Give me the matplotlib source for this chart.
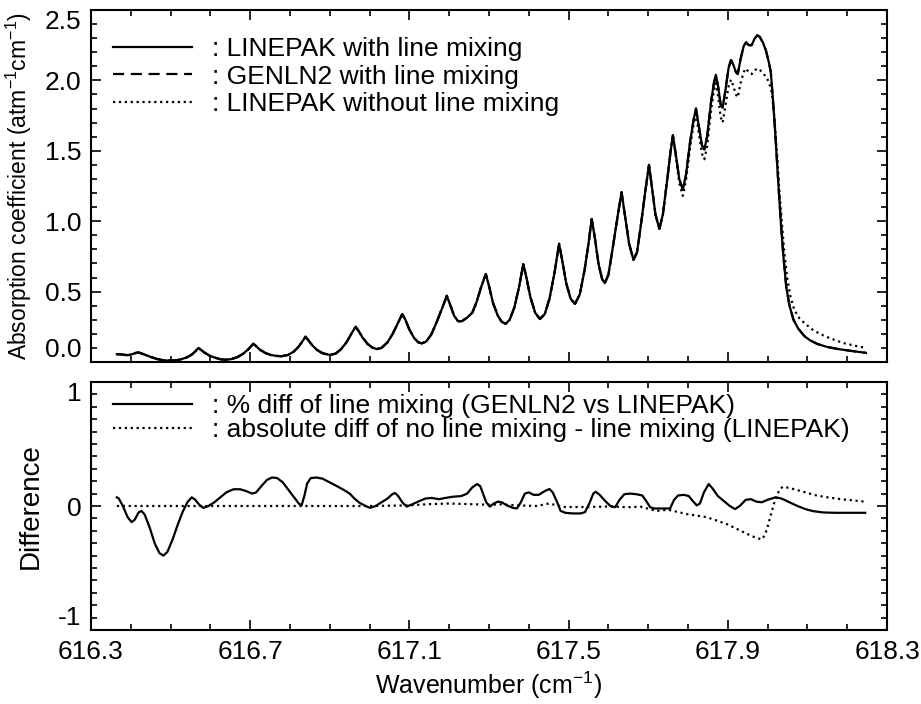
import matplotlib
matplotlib.use("Agg")
import matplotlib.pyplot as plt
from matplotlib.ticker import MultipleLocator

plt.rcParams['font.family'] = ['Liberation Sans', 'DejaVu Sans']
plt.rcParams['mathtext.fontset'] = 'custom'
plt.rcParams['mathtext.rm'] = 'Liberation Sans'
plt.rcParams['mathtext.it'] = 'Liberation Sans:italic'

# top panel: absorption coefficient, LINEPAK with line mixing
wn_top = [616.365, 616.375, 616.385, 616.394, 616.403, 616.412, 616.419, 616.426,
          616.437, 616.450, 616.465, 616.480, 616.494, 616.510, 616.525, 616.540,
          616.552, 616.562, 616.570, 616.577, 616.586, 616.598, 616.612, 616.625,
          616.637, 616.652, 616.668, 616.682, 616.695, 616.703, 616.708, 616.714,
          616.724, 616.738, 616.752, 616.766, 616.779, 616.795, 616.810, 616.822,
          616.832, 616.839, 616.846, 616.856, 616.868, 616.882, 616.900, 616.915,
          616.928, 616.942, 616.955, 616.965, 616.972, 616.982, 616.995, 617.007,
          617.018, 617.030, 617.045, 617.058, 617.070, 617.082, 617.090, 617.100,
          617.112, 617.122, 617.131, 617.142, 617.155, 617.168, 617.182, 617.194,
          617.202, 617.212, 617.222, 617.232, 617.245, 617.258, 617.268, 617.280,
          617.292, 617.300, 617.310, 617.322, 617.332, 617.342, 617.352, 617.364,
          617.376, 617.386, 617.394, 617.404, 617.416, 617.428, 617.440, 617.452,
          617.465, 617.476, 617.484, 617.494, 617.505, 617.516, 617.528, 617.540,
          617.550, 617.558, 617.566, 617.575, 617.584, 617.591, 617.600, 617.612,
          617.624, 617.633, 617.641, 617.652, 617.663, 617.672, 617.682, 617.693,
          617.702, 617.709, 617.718, 617.728, 617.737, 617.748, 617.756, 617.762,
          617.769, 617.778, 617.787, 617.795, 617.805, 617.814, 617.820, 617.827,
          617.835, 617.841, 617.848, 617.858, 617.865, 617.870, 617.876, 617.882,
          617.887, 617.894, 617.902, 617.908, 617.914, 617.920, 617.925, 617.932,
          617.940, 617.946, 617.953, 617.960, 617.967, 617.974, 617.980, 617.988,
          617.996, 618.003, 618.008, 618.013, 618.018, 618.023, 618.028, 618.034,
          618.040, 618.047, 618.055, 618.065, 618.077, 618.092, 618.106, 618.125,
          618.148, 618.175, 618.207, 618.247]
k_linepak = [0.056, 0.054, 0.050, 0.049, 0.055, 0.064, 0.068, 0.062,
             0.050, 0.036, 0.022, 0.013, 0.010, 0.011, 0.018, 0.032,
             0.050, 0.075, 0.100, 0.085, 0.065, 0.045, 0.030, 0.020,
             0.016, 0.020, 0.035, 0.058, 0.090, 0.115, 0.130, 0.115,
             0.088, 0.064, 0.050, 0.043, 0.041, 0.050, 0.075, 0.110,
             0.150, 0.180, 0.155, 0.118, 0.085, 0.062, 0.050, 0.060,
             0.090, 0.140, 0.205, 0.250, 0.222, 0.175, 0.128, 0.102,
             0.092, 0.100, 0.140, 0.200, 0.270, 0.340, 0.300, 0.230,
             0.170, 0.140, 0.132, 0.145, 0.195, 0.280, 0.380, 0.470,
             0.410, 0.330, 0.290, 0.290, 0.315, 0.350, 0.420, 0.530,
             0.625, 0.540, 0.420, 0.330, 0.285, 0.272, 0.300, 0.390,
             0.540, 0.695, 0.600, 0.460, 0.350, 0.305, 0.340, 0.450,
             0.640, 0.840, 0.720, 0.560, 0.450, 0.412, 0.480, 0.650,
             0.840, 1.016, 0.880, 0.700, 0.590, 0.560, 0.620, 0.830,
             1.050, 1.206, 1.050, 0.840, 0.725, 0.780, 0.980, 1.220,
             1.400, 1.250, 1.050, 0.945, 1.050, 1.300, 1.490, 1.610,
             1.480, 1.300, 1.225, 1.330, 1.560, 1.720, 1.800, 1.680,
             1.540, 1.510, 1.600, 1.850, 1.980, 2.040, 1.950, 1.830,
             1.805, 1.930, 2.090, 2.145, 2.110, 2.060, 2.045, 2.150,
             2.245, 2.270, 2.250, 2.250, 2.295, 2.320, 2.310, 2.270,
             2.210, 2.130, 2.060, 1.880, 1.680, 1.450, 1.220, 0.960,
             0.740, 0.530, 0.400, 0.300, 0.237, 0.185, 0.155, 0.128,
             0.108, 0.093, 0.080, 0.065]
# GENLN2 with line mixing lies right on the LINEPAK curve
k_genln2 = list(k_linepak)

# LINEPAK without line mixing: same curve up to 617.762, then it departs
n_shared = wn_top.index(617.762) + 1
wn_nolm_tail = [617.769, 617.778, 617.787, 617.795, 617.805, 617.814, 617.820, 617.827,
                617.835, 617.841, 617.848, 617.858, 617.865, 617.870, 617.876, 617.882,
                617.887, 617.894, 617.902, 617.908, 617.914, 617.920, 617.925, 617.932,
                617.940, 617.946, 617.953, 617.960, 617.967, 617.974, 617.982, 617.990,
                617.998, 618.005, 618.010, 618.015, 618.020, 618.025, 618.030, 618.036,
                618.042, 618.049, 618.057, 618.067, 618.080, 618.095, 618.115, 618.135,
                618.160, 618.190, 618.220, 618.247]
k_nolm_tail = [1.47, 1.27, 1.18, 1.29, 1.52, 1.69, 1.76, 1.63,
               1.48, 1.44, 1.53, 1.79, 1.93, 1.98, 1.88, 1.74,
               1.70, 1.82, 1.96, 2.005, 1.96, 1.90, 1.88, 1.98,
               2.06, 2.085, 2.055, 2.045, 2.07, 2.085, 2.07, 2.045,
               2.02, 1.97, 1.92, 1.80, 1.62, 1.42, 1.20, 0.98,
               0.78, 0.60, 0.47, 0.37, 0.31, 0.27, 0.225, 0.195,
               0.165, 0.135, 0.115, 0.10]
wn_nolm = wn_top[:n_shared] + wn_nolm_tail
k_nolm = k_linepak[:n_shared] + k_nolm_tail

# bottom panel: % diff of line mixing, GENLN2 vs LINEPAK
wn_pct = [616.365, 616.370, 616.380, 616.392, 616.402, 616.410, 616.420, 616.427,
          616.435, 616.447, 616.460, 616.472, 616.482, 616.492, 616.505, 616.518,
          616.530, 616.542, 616.553, 616.562, 616.572, 616.582, 616.595, 616.610,
          616.625, 616.640, 616.658, 616.675, 616.690, 616.705, 616.715, 616.728,
          616.742, 616.755, 616.768, 616.782, 616.796, 616.810, 616.822, 616.829,
          616.836, 616.843, 616.852, 616.866, 616.882, 616.900, 616.918, 616.935,
          616.950, 616.962, 616.975, 616.990, 617.001, 617.015, 617.030, 617.045,
          617.057, 617.064, 617.072, 617.082, 617.093, 617.108, 617.125, 617.140,
          617.155, 617.175, 617.190, 617.210, 617.230, 617.245, 617.258, 617.270,
          617.278, 617.285, 617.293, 617.302, 617.312, 617.322, 617.332, 617.345,
          617.360, 617.370, 617.380, 617.390, 617.400, 617.412, 617.425, 617.440,
          617.452, 617.460, 617.470, 617.480, 617.492, 617.510, 617.530, 617.541,
          617.552, 617.562, 617.568, 617.578, 617.592, 617.605, 617.617, 617.628,
          617.640, 617.655, 617.670, 617.685, 617.695, 617.705, 617.715, 617.740,
          617.755, 617.765, 617.775, 617.790, 617.802, 617.812, 617.822, 617.830,
          617.840, 617.852, 617.862, 617.875, 617.890, 617.905, 617.918, 617.930,
          617.945, 617.958, 617.972, 617.985, 618.000, 618.020, 618.035, 618.055,
          618.075, 618.095, 618.115, 618.140, 618.170, 618.245]
pct_diff = [0.07, 0.06, 0.00, -0.09, -0.13, -0.11, -0.05, -0.04,
            -0.07, -0.17, -0.30, -0.38, -0.40, -0.37, -0.27, -0.15,
            -0.05, 0.03, 0.07, 0.05, 0.01, -0.015, 0.00, 0.03,
            0.07, 0.11, 0.135, 0.135, 0.12, 0.10, 0.11, 0.16,
            0.21, 0.23, 0.225, 0.19, 0.13, 0.07, 0.02, 0.005,
            0.08, 0.18, 0.225, 0.23, 0.22, 0.19, 0.16, 0.13,
            0.10, 0.06, 0.025, 0.00, -0.015, 0.00, 0.03, 0.06,
            0.095, 0.105, 0.08, 0.03, -0.005, 0.015, 0.04, 0.06,
            0.065, 0.055, 0.065, 0.075, 0.08, 0.10, 0.15, 0.177,
            0.16, 0.10, 0.03, -0.005, 0.02, 0.035, 0.03, 0.005,
            -0.015, -0.02, 0.03, 0.10, 0.11, 0.09, 0.09, 0.12,
            0.137, 0.11, 0.04, -0.04, -0.055, -0.06, -0.06, -0.05,
            0.02, 0.10, 0.115, 0.09, 0.04, 0.00, -0.01, 0.05,
            0.095, 0.10, 0.095, 0.085, 0.04, -0.01, -0.02, -0.02,
            -0.02, 0.05, 0.085, 0.09, 0.08, 0.04, 0.005, 0.02,
            0.11, 0.177, 0.14, 0.08, 0.04, 0.00, -0.025, 0.00,
            0.05, 0.055, 0.035, 0.03, 0.05, 0.07, 0.06, 0.03,
            0.00, -0.025, -0.042, -0.052, -0.055, -0.055]

# absolute diff of no line mixing - line mixing (LINEPAK)
wn_abs = [616.365, 616.600, 616.800, 617.000, 617.100, 617.150, 617.200, 617.250,
          617.300, 617.330, 617.370, 617.420, 617.450, 617.490, 617.540, 617.600,
          617.650, 617.680, 617.721, 617.750, 617.797, 617.847, 617.897, 617.939,
          617.962, 617.985, 617.992, 617.998, 618.004, 618.010, 618.017, 618.025,
          618.032, 618.039, 618.055, 618.073, 618.100, 618.123, 618.150, 618.182,
          618.215, 618.245]
abs_diff = [0.0, 0.0, 0.0, 0.0, 0.005, 0.015, 0.02, 0.015,
            0.01, 0.013, 0.005, 0.0, 0.02, -0.008, -0.008, -0.004,
            -0.01, -0.005, -0.04, -0.03, -0.065, -0.09, -0.145, -0.21,
            -0.245, -0.27, -0.24, -0.19, -0.12, -0.05, 0.03, 0.10,
            0.14, 0.156, 0.145, 0.13, 0.105, 0.085, 0.07, 0.056,
            0.045, 0.035]

xticks = [616.3, 616.7, 617.1, 617.5, 617.9, 618.3]
xticklabels = ['616.3', '616.7', '617.1', '617.5', '617.9', '618.3']
top_yticks = [0.0, 0.5, 1.0, 1.5, 2.0, 2.5]
top_yticklabels = ['0.0', '0.5', '1.0', '1.5', '2.0', '2.5']
bot_yticks = [-1, 0, 1]
bot_yticklabels = ['-1', '0', '1']

fig = plt.figure(figsize=(9.21, 7.04), dpi=100)
ax1 = fig.add_axes([0.0988, 0.4858, 0.8643, 0.5])
ax2 = fig.add_axes([0.0988, 0.1051, 0.8643, 0.3523])

FS = 19
LW = 1.6

ax1.plot(wn_top, k_linepak, color='black', lw=LW, label=': LINEPAK with line mixing')
ax1.plot(wn_top, k_genln2, color='black', lw=LW, dashes=(5, 3), label=': GENLN2 with line mixing')
ax1.plot(wn_nolm, k_nolm, color='black', lw=LW, linestyle=':', label=': LINEPAK without line mixing')

ax2.plot(wn_pct, pct_diff, color='black', lw=LW, label=': % diff of line mixing (GENLN2 vs LINEPAK)')
ax2.plot(wn_abs, abs_diff, color='black', lw=LW, linestyle=':',
         label=': absolute diff of no line mixing - line mixing (LINEPAK)')

for ax in (ax1, ax2):
    ax.set_xlim(616.3, 618.3)
    ax.set_xticks(xticks)
    ax.xaxis.set_minor_locator(MultipleLocator(0.1))
    ax.tick_params(which='both', direction='in', top=True, right=True, width=1.2, labelsize=FS)
    ax.tick_params(which='major', length=7, pad=7)
    ax.tick_params(which='minor', length=4)
    for s in ax.spines.values():
        s.set_linewidth(1.5)

ax1.set_ylim(0, 2.5)
ax1.set_yticks(top_yticks)
ax1.set_yticklabels(top_yticklabels)
ax1.yaxis.set_minor_locator(MultipleLocator(0.1))
ax1.tick_params(labelbottom=False)
ax1.set_ylabel(r'Absorption coefficient (atm$^{-1}$cm$^{-1}$)', fontsize=16.5)
ax1.yaxis.set_label_coords(-0.0716, 0.5)

ax2.set_ylim(-1, 1)
ax2.set_yticks(bot_yticks)
ax2.set_yticklabels(bot_yticklabels)
ax2.yaxis.set_minor_locator(MultipleLocator(0.1))
ax2.set_xticklabels(xticklabels)
ax2.set_ylabel('Difference', fontsize=20)
ax2.yaxis.set_label_coords(-0.059, 0.5)
ax2.set_xlabel(r'Wavenumber (cm$^{-1}$)', fontsize=18, labelpad=4)

# end labels sit inside the frame, as in the original plot
for ax in (ax1, ax2):
    labs = ax.get_yticklabels()
    labs[0].set_va('bottom')
    labs[-1].set_va('top')

ax1.legend(loc='upper left', bbox_to_anchor=(0.0276, 0.922), frameon=False,
           fontsize=FS, borderpad=0, borderaxespad=0, handlelength=3.0,
           handletextpad=0.76, labelspacing=0.12)
ax2.legend(loc='upper left', bbox_to_anchor=(0.0276, 0.95), frameon=False,
           fontsize=FS, borderpad=0, borderaxespad=0, handlelength=3.0,
           handletextpad=0.76, labelspacing=0.0)

fig.savefig('out.png', dpi=100)
